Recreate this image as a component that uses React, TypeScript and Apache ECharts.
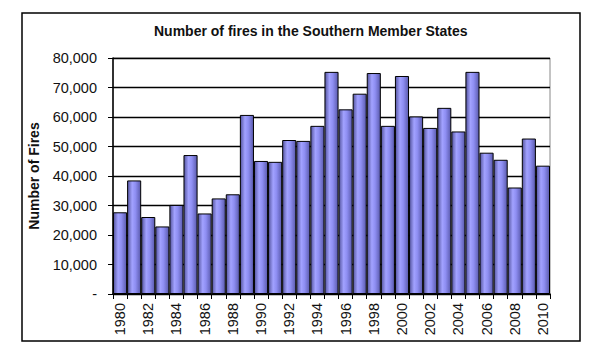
import React, { useEffect, useRef } from "react";
import * as echarts from "echarts";

const years = [
  "1980","1981","1982","1983","1984","1985","1986","1987","1988","1989",
  "1990","1991","1992","1993","1994","1995","1996","1997","1998","1999",
  "2000","2001","2002","2003","2004","2005","2006","2007","2008","2009","2010",
];
const fires = [
  27700, 38500, 26100, 22900, 30200, 47100, 27300, 32400, 33800, 60700,
  45100, 44800, 52200, 51900, 57000, 75300, 62600, 67900, 74900, 57000,
  73900, 60200, 56300, 63100, 55100, 75300, 47900, 45500, 36100, 52700, 43500,
];
const titleText = "Number of fires in the Southern Member States";
const yName = "Number of Fires";
const yMax = 80000;
const yInterval = 10000;

const FONT = "'Liberation Sans', Arial, sans-serif";

export default function App() {
  const ref = useRef<HTMLDivElement>(null);
  useEffect(() => {
    if (!ref.current) return;
    const chart = echarts.init(ref.current, null, { renderer: "svg" });
    chart.setOption({
      animation: false,
      backgroundColor: "#ffffff",
      title: {
        text: titleText,
        left: 149,
        top: 19,
        textStyle: { fontFamily: FONT, fontSize: 14, fontWeight: "bold", color: "#111" },
      },
      graphic: [
        {
          type: "rect",
          shape: { x: 22, y: 13, width: 558, height: 328 },
          style: { fill: "none", stroke: "#000", lineWidth: 1.5 },
          silent: true,
          z: 100,
        },
      ],
      grid: {
        left: 113,
        top: 58,
        width: 437,
        height: 236,
        show: true,
        borderColor: "#888",
        borderWidth: 1,
        backgroundColor: "#fff",
      },
      xAxis: {
        type: "category",
        data: years,
        axisLine: { lineStyle: { color: "#000", width: 1.5 } },
        axisTick: { show: true, interval: 0, length: 5, lineStyle: { color: "#000", width: 1 } },
        axisLabel: {
          interval: 1,
          rotate: 90,
          margin: 9,
          fontFamily: FONT,
          fontSize: 14.5,
          color: "#111",
        },
      },
      yAxis: {
        type: "value",
        min: 0,
        max: yMax,
        interval: yInterval,
        name: yName,
        nameLocation: "middle",
        nameRotate: 90,
        nameGap: 72,
        nameTextStyle: { fontFamily: FONT, fontSize: 14, fontWeight: "bold", color: "#111" },
        axisLine: { show: true, lineStyle: { color: "#000", width: 1.5 } },
        axisTick: { show: true, length: 5, lineStyle: { color: "#000" } },
        axisLabel: {
          margin: 16,
          fontFamily: FONT,
          fontSize: 14.5,
          color: "#111",
          formatter: (v: number) => (v === 0 ? "-" : v.toLocaleString("en-US")),
        },
        splitLine: { show: true, lineStyle: { color: "#000", width: 1.3 } },
      },
      series: [
        {
          type: "bar",
          data: fires,
          barCategoryGap: "0%",
          itemStyle: {
            borderColor: "#000",
            borderWidth: 1,
            color: new echarts.graphic.LinearGradient(0, 0, 1, 0, [
              { offset: 0, color: "#55559f" },
              { offset: 0.35, color: "#a2a2ff" },
              { offset: 0.6, color: "#8e8ef2" },
              { offset: 1, color: "#5a5aad" },
            ]),
          },
        },
      ],
    });
    return () => chart.dispose();
  }, []);
  return (
    <div
      ref={ref}
      style={{ position: "fixed", left: 0, top: 0, width: 594, height: 352 }}
    />
  );
}
